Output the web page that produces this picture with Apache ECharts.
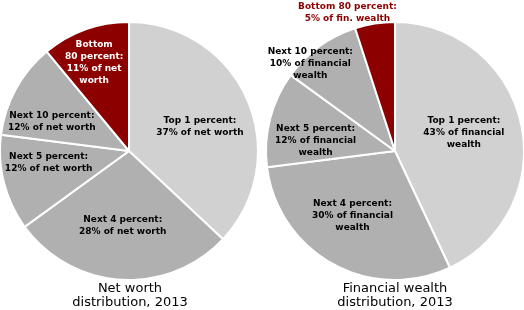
<!DOCTYPE html>
<html><head><meta charset="utf-8">
<script src="https://cdn.jsdelivr.net/npm/echarts@6/dist/echarts.min.js"></script>
<style>html,body{margin:0;padding:0;background:#fff}#c{width:524px;height:310px}</style>
</head><body><div id="c"></div>
<script>
const groups = ["Top 1 percent", "Next 4 percent", "Next 5 percent", "Next 10 percent", "Bottom 80 percent"];
const netWorth = [37, 28, 12, 12, 11];
const finWealth = [43, 30, 12, 10, 5];
const netLabels = ["Top 1 percent:\n37% of net worth", "Next 4 percent:\n28% of net worth", "Next 5 percent:\n12% of net worth", "Next 10 percent:\n12% of net worth", "Bottom\n80 percent:\n11% of net\nworth"];
const finLabels = ["Top 1 percent:\n43% of financial\nwealth", "Next 4 percent:\n30% of financial\nwealth", "Next 5 percent:\n12% of financial\nwealth", "Next 10 percent:\n10% of financial\nwealth", "Bottom 80 percent:\n5% of fin. wealth"];
const titles = ["Net worth\ndistribution, 2013", "Financial wealth\ndistribution, 2013"];
const colors = ["#d1d1d1", "#b0b0b0", "#b0b0b0", "#b0b0b0", "#8c0000"];

const FONT = "DejaVu Sans";
// label nudges from the default inside position
const nudgeNet = [[9, 2], [-2, 7], [-15, -5], [-18, 3], [-12, -25]];
const nudgeFin = [[3, -4], [-10, 6], [-14, 6], [-45, -33], [-37, -72]];

function mk(vals, labels, dark) {
  return vals.map((v, i) => ({
    name: groups[i], value: v,
    itemStyle: { color: colors[i] },
    label: { formatter: labels[i], color: i === 4 ? (dark ? "#8c0000" : "#fff") : "#000" }
  }));
}
const chart = echarts.init(document.getElementById('c'), null, { renderer: 'canvas' });
function series(center, vals, labels, dark, nudge) {
  return {
    type: 'pie', radius: [0, 129], center: center, startAngle: 90, clockwise: true,
    animation: false, silent: true, avoidLabelOverlap: false, minShowLabelAngle: 0,
    itemStyle: { borderColor: '#fff', borderWidth: 2 },
    label: { position: 'inside', fontFamily: FONT, fontWeight: 'bold', fontSize: 9, lineHeight: 12, align: 'center', overflow: 'none' },
    labelLine: { show: false },
    labelLayout: function (p) { const n = nudge[p.dataIndex]; return { dx: n[0], dy: n[1], hideOverlap: false }; },
    data: mk(vals, labels, dark)
  };
}
chart.setOption({
  backgroundColor: '#fff',
  title: [
    { text: titles[0], left: 125, top: 277, textAlign: 'center', textStyle: { fontFamily: FONT, fontWeight: 'normal', fontSize: 13, lineHeight: 14, color: '#000' } },
    { text: titles[1], left: 390, top: 277, textAlign: 'center', textStyle: { fontFamily: FONT, fontWeight: 'normal', fontSize: 13, lineHeight: 14, color: '#000' } }
  ],
  series: [
    series([129, 151], netWorth, netLabels, false, nudgeNet),
    series([395, 151], finWealth, finLabels, true, nudgeFin)
  ]
});
</script></body></html>
